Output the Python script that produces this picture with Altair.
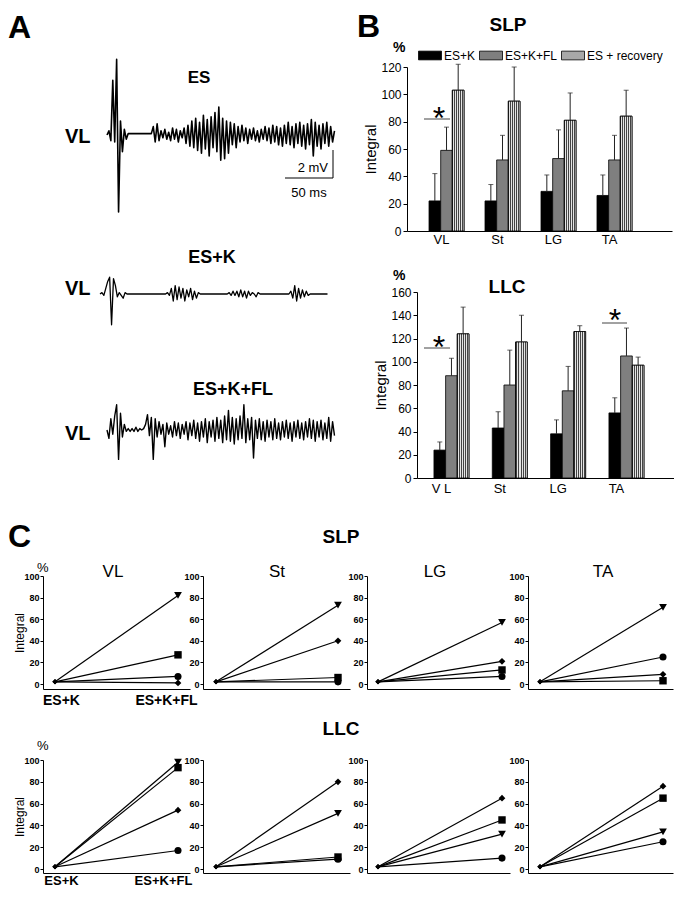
import altair as alt
import pandas as pd

# ---------------- data ----------------
# Panel A: EMG sweeps (mV), one sample every 2 ms
trace_step_ms = 2
trace_es = [0, 0.3, -0.4, 3.9, -0.5, 5.4, -5.5, 1.0, -1.2, 0.4, -0.3, 0.1,
            0.1, 0.1, 0.1, 0.1, 0.1, 0.1, 0.1, 0.1, 0.1, 0.1, 0.1, 0.1,
            0.6, -0.5, 0.8, -0.4, 0.3, -0.2, 0.4, -0.3, 0.2, -0.4, 0.5, -0.3, 0.4, -0.5,
            0.3, -0.2, 0.5, -0.6, 0.7, -0.8, 1.0, -0.9, 1.2, -1.1, 0.9, -1.3, 1.4, -1.0, 1.1, -1.5,
            1.3, -0.9, 1.6, -1.2, 2.0, -1.8, 1.2, -1.7, 1.0, -1.3, 0.9, -0.7, 0.8, -0.9,
            0.6, -0.5, 0.7, -0.4, 0.5, -0.6, 0.4, -0.3, 0.5, -0.4, 0.3, -0.5,
            0.4, -0.3, 0.6, -0.4, 0.5, -0.6, 0.7, -0.5, 0.6, -0.7, 0.5, -0.8,
            0.7, -0.6, 0.9, -0.7, 0.6, -0.9, 0.8, -0.6, 0.9, -0.8, 0.7, -1.0,
            0.8, -0.7, 1.1, -1.5, 0.9, -0.8, 0.7, -1.0, 0.8, -0.6, 0.9, -0.8,
            0.6, -0.5, 0.3]
trace_es_k = [0, 0.1, -0.1, 0.4, 0.9, 1.2, -2.2, 1.1, 0.6, -0.2, 0.1, -0.1, -0.3, 0.1,
              0, 0, 0, 0, 0, 0, 0, 0, 0, 0, 0, 0, 0, 0, 0, 0, 0, 0, 0, 0, 0,
              0.1, -0.1, 0.4, -0.5, 0.6, -0.4, 0.5, -0.3, 0.4, -0.5, 0.3, -0.2, 0.4, -0.4, 0.2, -0.3, 0.1,
              0, 0, 0, 0, 0, 0, 0, 0, 0, 0, 0, 0, 0, 0, 0,
              0.1, -0.1, 0.2, -0.1, 0.2, -0.2, 0.3, -0.2, 0.2, -0.3, 0.2, -0.1, 0.1, 0, -0.2, 0.1,
              0, 0, 0, 0, 0, 0, 0, 0, 0, 0, 0, 0, 0, 0, 0, 0,
              0.2, -0.3, 0.6, -0.5, 0.4, -0.3, 0.3, -0.2, 0.2, -0.1,
              0, 0, 0, 0, 0, 0, 0, 0, 0, 0]
trace_es_k_fl = [0, -0.6, 0.8, -0.3, 1.0, 1.8, -2.1, 1.2, -0.5, 0.4, -0.1, 0.1, -0.1, 0.1, -0.1, 0.2, -0.1, 0.1, 0, 0.1,
                 0.4, 1.1, -0.4, 0.9, -2.1, 0.8, -0.5, 0.6, -0.3, 0.4, -1.2, 0.5, -0.3, 0.3,
                 -0.5, 0.6, -0.4, 0.5, -0.6, 0.4, -0.3, 0.6, -0.7, 0.5, -0.4, 0.7, -0.6, 0.5, -0.8, 0.6,
                 -0.5, 0.8, -0.9, 0.6, -0.5, 0.7, -0.8, 0.9, -0.6, 0.7, -0.9, 1.0, -0.7, 1.4, -0.8, 0.9,
                 -1.0, 0.8, -0.7, 1.0, -0.6, 1.8, -0.9, 0.8, -0.7, 0.9, -2.0, 0.7, -0.6, 0.8, -0.7, 0.6,
                 -0.8, 0.7, -0.5, 0.6, -0.7, 0.8, -0.6, 0.5, -0.7, 0.6, -0.5, 0.7, -0.6, 0.5, -0.8, 0.6,
                 -0.5, 0.7, -0.6, 0.5, -0.7, 0.6, -0.5, 0.8, -0.6, 0.7, -0.8, 0.6, -0.5, 0.7, -0.7, 0.5,
                 -0.6, 0.9, -0.8, 0.6, -0.4]

# Panel B: mean integral (%) and top of error bar
muscles = ["VL", "St", "LG", "TA"]
conditions = ["ES+K", "ES+K+FL", "ES + recovery"]
slp_mean = {"ES+K": [22, 22, 29, 26], "ES+K+FL": [59, 52, 53, 52], "ES + recovery": [103, 95, 81, 84]}
slp_upper = {"ES+K": [42, 34, 41, 41], "ES+K+FL": [76, 70, 74, 70], "ES + recovery": [122, 120, 101, 103]}
llc_mean = {"ES+K": [24, 43, 38, 56], "ES+K+FL": [88, 80, 75, 105], "ES + recovery": [124, 117, 126, 97]}
llc_upper = {"ES+K": [31, 57, 50, 69], "ES+K+FL": [103, 110, 96, 129], "ES + recovery": [147, 140, 131, 104]}

# Panel C: individual animals, ES+K -> ES+K+FL
pair_conditions = ["ES+K", "ES+K+FL"]
animals = ["a1", "a2", "a3", "a4"]
animal_shapes = ["triangle-down", "square", "circle", "diamond"]
pair_start = [2, 2, 2, 2]
slp_end = {"VL": [82, 27, 7, 1], "St": [73, 6, 2, 40], "LG": [57, 13, 7, 21], "TA": [71, 3, 25, 9]}
llc_end = {"VL": [98, 93, 17, 54], "St": [51, 11, 9, 80], "LG": [32, 45, 10, 65], "TA": [34, 65, 25, 76]}

# ---------------- layout helpers ----------------
OX = OY = 8
W, H = 666, 884
FONT = "Liberation Sans"
NARROW = "Liberation Sans Narrow, Liberation Sans"


def X(v):
    return v - OX


def Y(v):
    return v - OY


one = pd.DataFrame({"k": [0]})


def label(s, x, y, size, weight="normal", align="left", font=FONT):
    return alt.Chart(one).mark_text(text=s, font=font, fontSize=size, fontWeight=weight,
                                    align=align, baseline="alphabetic", color="black").encode(
        x=alt.value(X(x)), y=alt.value(Y(y)))


def hline(x1, x2, y, color="black", width=1.0):
    return alt.Chart(one).mark_rule(color=color, strokeWidth=width).encode(
        x=alt.value(X(x1)), x2=alt.value(X(x2)), y=alt.value(Y(y)))


def vline(x, y1, y2, color="black", width=1.0):
    return alt.Chart(one).mark_rule(color=color, strokeWidth=width).encode(
        x=alt.value(X(x)), y=alt.value(Y(y1)), y2=alt.value(Y(y2)))


MS_PX = 0.964
MV_PX = 14.0


def trace(values, x0, base, sw):
    df = pd.DataFrame({"t": [i * trace_step_ms for i in range(len(values))], "mv": values})
    tmax = (len(values) - 1) * trace_step_ms
    return alt.Chart(df).mark_line(color="black", strokeWidth=sw, strokeJoin="round").encode(
        x=alt.X("t:Q", axis=None, scale=alt.Scale(domain=[0, tmax], range=[X(x0), X(x0 + tmax * MS_PX)],
                                                  nice=False, zero=False)),
        y=alt.Y("mv:Q", axis=None, scale=alt.Scale(domain=[-6, 6], range=[Y(base + 6 * MV_PX), Y(base - 6 * MV_PX)],
                                                   nice=False, zero=False)),
    )


# checkered fill approximated with fine stripes
stops = []
n_str = 6
for k in range(n_str):
    a = k / n_str
    b = a + 0.5 / n_str
    c = (k + 1) / n_str
    stops += [alt.GradientStop(color="#444444", offset=a), alt.GradientStop(color="#444444", offset=b),
              alt.GradientStop(color="#e4e4e4", offset=b), alt.GradientStop(color="#e4e4e4", offset=c)]
HATCH = alt.LinearGradient(gradient="linear", stops=stops, x1=0, x2=1, y1=0, y2=0)


def bar_panel(means, uppers, ymax, geom, legend, label_expr):
    xl, xr, y0, ytop, pin, pout, align, loff, lpad = geom
    rows = []
    for s in conditions:
        for m, mv, uv in zip(muscles, means[s], uppers[s]):
            rows.append({"muscle": m, "series": s, "mean": mv, "upper": uv})
    df = pd.DataFrame(rows)
    xscale = alt.Scale(domain=muscles, range=[X(xl), X(xr)], paddingInner=pin, paddingOuter=pout, align=align)
    yscale = alt.Scale(domain=[0, ymax], range=[Y(y0), Y(ytop)], nice=False, zero=False)
    oscale = alt.Scale(domain=conditions, paddingInner=0, paddingOuter=0)
    xaxis = alt.Axis(orient="bottom", offset=Y(y0) - H, title=None, ticks=False, tickSize=0, labelFontSize=13,
                     labelPadding=lpad, labelOffset=loff, labelAngle=0, labelExpr=label_expr)
    yaxis = alt.Axis(orient="left", offset=-X(xl), title="Integral", titleFontSize=15, titleFontWeight="normal",
                     titlePadding=2, values=list(range(0, ymax + 1, 20)), tickSize=4, labelFontSize=12,
                     labelFont=NARROW, labelPadding=2)
    ex = alt.X("muscle:N", scale=xscale, axis=xaxis, sort=muscles)
    eo = alt.XOffset("series:N", scale=oscale, sort=conditions)
    base = alt.Chart(df)
    bars = base.mark_bar(stroke="black", strokeWidth=0.8).encode(
        x=ex, xOffset=eo, y=alt.Y("mean:Q", scale=yscale, axis=yaxis),
        color=alt.Color("series:N", scale=alt.Scale(domain=conditions, range=["#000000", "#7f7f7f", "#a8a8a8"]),
                        legend=legend, sort=conditions))
    hatch = base.transform_filter(alt.datum.series == conditions[2]).mark_bar(
        fill=HATCH, stroke="black", strokeWidth=0.8).encode(
        x=ex, xOffset=eo, y=alt.Y("mean:Q", scale=yscale, axis=yaxis))
    err = base.mark_rule(color="#222222", strokeWidth=1).encode(
        x=ex, xOffset=eo, y=alt.Y("mean:Q", scale=yscale, axis=yaxis), y2="upper:Q")
    cap = base.mark_tick(color="#222222", thickness=1, size=5, orient="horizontal").encode(
        x=ex, xOffset=eo, y=alt.Y("upper:Q", scale=yscale, axis=yaxis))
    return alt.layer(bars, hatch, err, cap)


slp_legend = alt.Legend(orient="none", legendX=X(418), legendY=Y(55) - 11.5, direction="horizontal", columns=3,
                        title=None, symbolType="M-1,-0.38H1V0.38H-1Z", symbolSize=529, symbolStrokeColor="black",
                        symbolStrokeWidth=0.8, labelFont=FONT, labelFontSize=12, labelOffset=2, columnPadding=1,
                        gridAlign="none", padding=0, labelLimit=300, symbolOpacity=1)

slp_bars = bar_panel(slp_mean, slp_upper, 120, (407, 672, 231, 67, 0.375, 0.554, 0.355, -5, 2), slp_legend,
                     "datum.label")
llc_bars = bar_panel(llc_mean, llc_upper, 160, (417, 676, 478, 292, 0.4, 0.42, 0.346, -10, 4), None,
                     "datum.label == 'VL' ? 'V L' : datum.label")

# Panel C geometry (reference pixels)
px_left = [43, 203, 367, 528]
px_right = [190, 350, 510, 673]
px_start = [55, 216, 378, 540]
px_end = [178, 338, 502, 663]
rows_geom = {"SLP": (684, 576, 689, 4, 14, 166), "LLC": (869, 760, 873, 1, 13, 163)}


def pair_panel(ends, j, rowkey):
    xl, xr, sx, ex_ = px_left[j], px_right[j], px_start[j], px_end[j]
    y0, ytop, yline, lpad, lsize, lab2 = rows_geom[rowkey]
    rows = []
    for a, s, e in zip(animals, pair_start, ends):
        rows.append({"animal": a, "pos": 0, "v": s})
        rows.append({"animal": a, "pos": 1, "v": e})
    df = pd.DataFrame(rows)
    k = ex_ - sx
    xscale = alt.Scale(domain=[(xl - sx) / k, 1 + (xr - ex_) / k], range=[X(xl), X(xr)], nice=False, zero=False)
    ky = (y0 - ytop) / 100
    yscale = alt.Scale(domain=[-(yline - y0) / ky, 100], range=[Y(yline), Y(ytop)], nice=False, zero=False)
    if j == 0:
        xaxis = alt.Axis(orient="bottom", offset=Y(yline) - H, title=None, ticks=False, tickSize=0,
                         values=[(61 - sx) / k, (lab2 - sx) / k],
                         labelExpr="datum.value < 0.5 ? '%s' : '%s'" % (pair_conditions[0], pair_conditions[1]),
                         labelFontSize=lsize, labelFontWeight="bold", labelPadding=lpad, labelFlush=False,
                         labelOverlap=False, labelAngle=0)
    else:
        xaxis = alt.Axis(orient="bottom", offset=Y(yline) - H, title=None, ticks=False, tickSize=0, labels=False)
    yaxis = alt.Axis(orient="left", offset=-X(xl), values=[0, 20, 40, 60, 80, 100], tickSize=3, labelFontSize=9,
                     labelFontWeight="bold", labelFont=NARROW, labelPadding=1,
                     title="Integral" if j == 0 else None, titleFontSize=12, titleFontWeight="normal",
                     titlePadding=-3)
    exq = alt.X("pos:Q", scale=xscale, axis=xaxis)
    eyq = alt.Y("v:Q", scale=yscale, axis=yaxis)
    base = alt.Chart(df)
    lines = base.mark_line(color="black", strokeWidth=1.2).encode(x=exq, y=eyq, detail="animal:N")
    endp = base.transform_filter(alt.datum.pos == 1).mark_point(filled=True, color="black", opacity=1).encode(
        x=exq, y=eyq,
        shape=alt.Shape("animal:N", scale=alt.Scale(domain=animals, range=animal_shapes), legend=None),
        size=alt.Size("animal:N", scale=alt.Scale(domain=animals, range=[60, 45, 60, 30]), legend=None))
    startp = base.transform_filter(alt.datum.pos == 0).mark_point(filled=True, color="black", opacity=1,
                                                                  shape="diamond", size=25).encode(x=exq, y=eyq)
    return alt.layer(lines, endp, startp)


AST = 32
layers = [
    # ---- A ----
    label("A", 8, 38, 32, "bold"),
    label("ES", 199, 83, 17, "bold", "center"),
    label("VL", 65, 143, 20, "bold"),
    trace(trace_es, 107, 135, 1.6),
    vline(333, 150, 178), hline(285, 333, 178),
    label("2 mV", 328, 172, 13, align="right"),
    label("50 ms", 309, 197, 13, align="center"),
    label("ES+K", 212, 263, 18, "bold", "center"),
    label("VL", 65, 295, 20, "bold"),
    trace(trace_es_k, 100, 294, 1.3),
    label("ES+K+FL", 233, 395, 18, "bold", "center"),
    label("VL", 65, 440, 20, "bold"),
    trace(trace_es_k_fl, 107, 430, 1.4),
    # ---- B ----
    label("B", 357, 37, 32, "bold"),
    label("SLP", 508, 31, 19, "bold", "center"),
    label("%", 393, 52, 14, "bold"),
    slp_bars,
    hline(424, 450, 119, "#444444"), label("*", 439, 111 + 0.57 * AST, AST, "normal", "center"),
    label("LLC", 507, 293, 19, "bold", "center"),
    label("%", 393, 280, 14, "bold"),
    llc_bars,
    hline(424, 450, 348, "#444444"), label("*", 439, 340 + 0.57 * AST, AST, "normal", "center"),
    hline(602, 627, 323, "#444444"), label("*", 615, 313 + 0.57 * AST, AST, "normal", "center"),
    # ---- C ----
    label("C", 8, 547, 32, "bold"),
    label("SLP", 341, 543, 19, "bold", "center"),
    label("%", 37, 572, 13),
    label("LLC", 341, 735, 19, "bold", "center"),
    label("%", 37, 750, 13),
]
title_x = [113, 277, 435, 603]
for j, m in enumerate(muscles):
    layers.append(label(m, title_x[j], 577, 17, "normal", "center"))
    layers.append(pair_panel(slp_end[m], j, "SLP"))
    layers.append(pair_panel(llc_end[m], j, "LLC"))

chart = alt.layer(*layers).resolve_scale(
    x="independent", y="independent", color="independent", xOffset="independent"
).resolve_axis(
    x="independent", y="independent"
).properties(
    width=W, height=H, autosize=alt.AutoSizeParams(type="none"), padding=0, background="white"
).configure_view(stroke=None).configure_axis(
    grid=False, labelFont=FONT, titleFont=FONT, labelColor="black", titleColor="black",
    domainColor="black", tickColor="black", domainWidth=1, tickWidth=1
)

chart.save("out.html", embed_options={"renderer": "svg", "actions": False})
